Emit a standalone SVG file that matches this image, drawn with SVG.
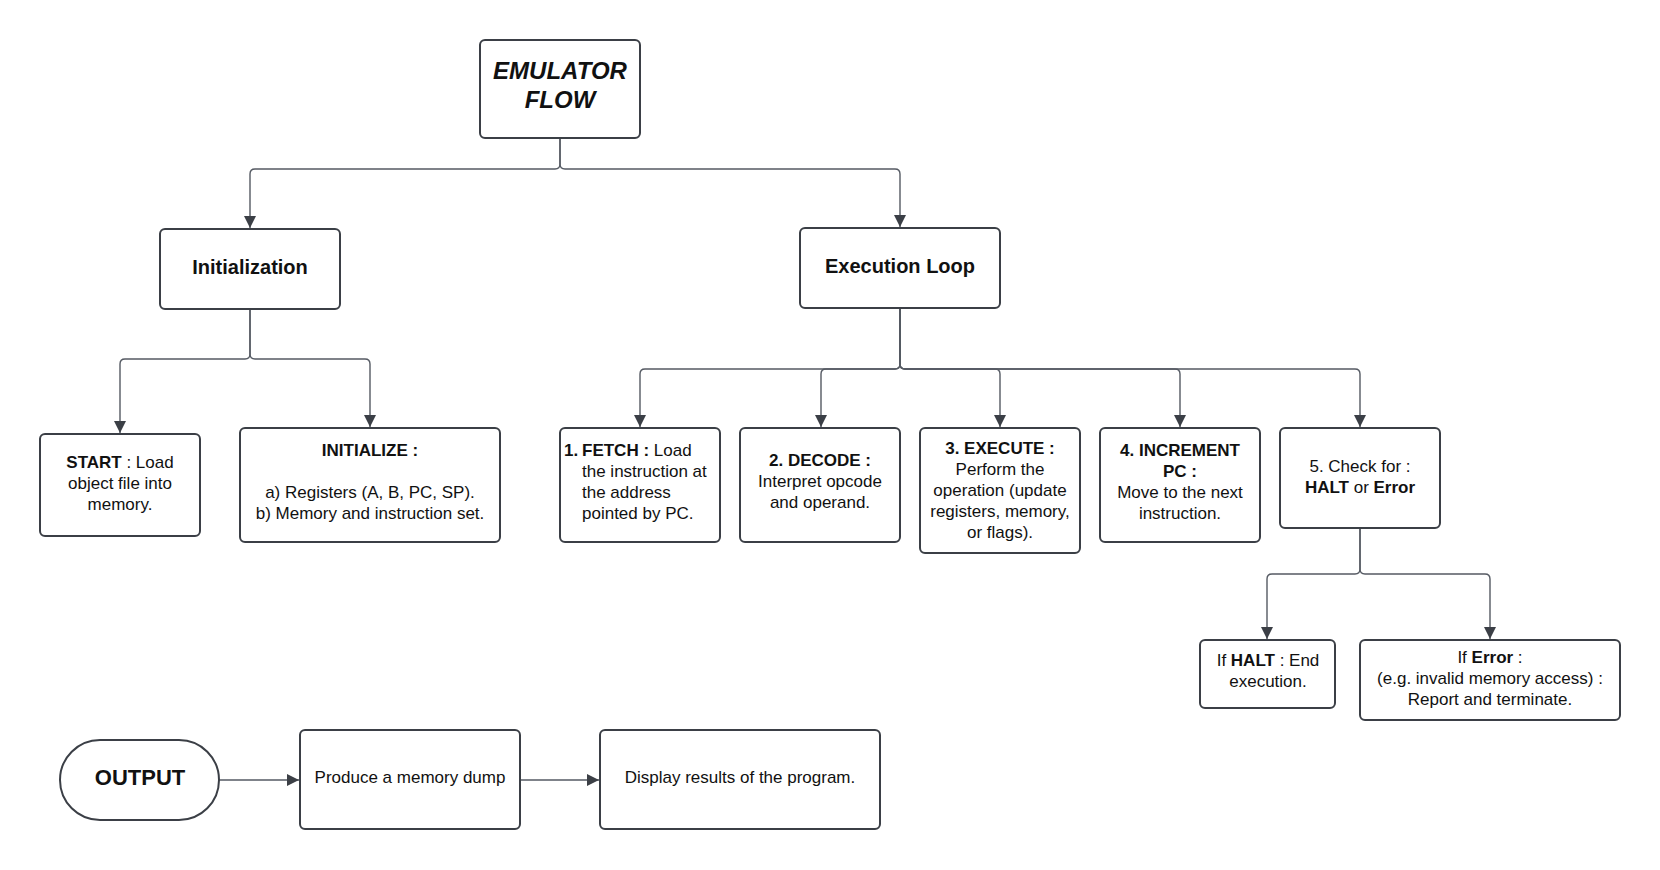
<svg xmlns="http://www.w3.org/2000/svg" width="1660" height="870" viewBox="0 0 1660 870">
<style>
.box{fill:#fff;stroke:#3b3f46;stroke-width:2}
.con{fill:none;stroke:#555a63;stroke-width:1.4}
text{font-family:"Liberation Sans",Arial,sans-serif;font-size:17px;fill:#111}
.c{text-anchor:middle}
.b{font-weight:bold}
</style>
<defs>
<marker id="ar" markerUnits="userSpaceOnUse" markerWidth="14" markerHeight="14" refX="12" refY="6" orient="auto">
<path d="M0,0 L12,6 L0,12 Z" fill="#3b3f46"/>
</marker>
</defs>
<rect width="1660" height="870" fill="#fff"/>
<g id="connectors">
<path class="con" marker-end="url(#ar)" d="M560,138 V164 Q560,169 555,169 H255 Q250,169 250,174 V228"/>
<path class="con" marker-end="url(#ar)" d="M560,138 V164 Q560,169 565,169 H895 Q900,169 900,174 V227"/>
<path class="con" marker-end="url(#ar)" d="M250,309 V354 Q250,359 245,359 H125 Q120,359 120,364 V433"/>
<path class="con" marker-end="url(#ar)" d="M250,309 V354 Q250,359 255,359 H365 Q370,359 370,364 V427"/>
<path class="con" marker-end="url(#ar)" d="M900,308 V364 Q900,369 895,369 H645 Q640,369 640,374 V427"/>
<path class="con" marker-end="url(#ar)" d="M900,308 V364 Q900,369 895,369 H826 Q821,369 821,374 V427"/>
<path class="con" marker-end="url(#ar)" d="M900,308 V364 Q900,369 905,369 H995 Q1000,369 1000,374 V427"/>
<path class="con" marker-end="url(#ar)" d="M900,308 V364 Q900,369 905,369 H1175 Q1180,369 1180,374 V427"/>
<path class="con" marker-end="url(#ar)" d="M900,308 V364 Q900,369 905,369 H1355 Q1360,369 1360,374 V427"/>
<path class="con" marker-end="url(#ar)" d="M1360,528 V569 Q1360,574 1355,574 H1272 Q1267,574 1267,579 V639"/>
<path class="con" marker-end="url(#ar)" d="M1360,528 V569 Q1360,574 1365,574 H1485 Q1490,574 1490,579 V639"/>
<path class="con" marker-end="url(#ar)" d="M219,780 H299"/>
<path class="con" marker-end="url(#ar)" d="M520,780 H599"/>
</g>
<g id="emulator-flow">
<rect class="box" x="480" y="40" width="160" height="98" rx="5"/>
<text class="c b" x="560" y="79" style="font-size:24px;font-style:italic">EMULATOR</text>
<text class="c b" x="560" y="108" style="font-size:24px;font-style:italic">FLOW</text>
</g>
<g id="initialization">
<rect class="box" x="160" y="229" width="180" height="80" rx="5"/>
<text class="c b" x="250" y="274" style="font-size:20px">Initialization</text>
</g>
<g id="execution-loop">
<rect class="box" x="800" y="228" width="200" height="80" rx="5"/>
<text class="c b" x="900" y="273" style="font-size:20px">Execution Loop</text>
</g>
<g id="start">
<rect class="box" x="40" y="434" width="160" height="102" rx="5"/>
<text class="c" x="120" y="468"><tspan class="b">START</tspan> : Load</text>
<text class="c" x="120" y="489">object file into</text>
<text class="c" x="120" y="510">memory.</text>
</g>
<g id="initialize">
<rect class="box" x="240" y="428" width="260" height="114" rx="5"/>
<text class="c b" x="370" y="456">INITIALIZE :</text>
<text class="c" x="370" y="498">a) Registers (A, B, PC, SP).</text>
<text class="c" x="370" y="519">b) Memory and instruction set.</text>
</g>
<g id="fetch">
<rect class="box" x="560" y="428" width="160" height="114" rx="5"/>
<text class="b" x="564" y="456">1.</text>
<text x="582" y="456"><tspan class="b">FETCH :</tspan> Load</text>
<text x="582" y="477">the instruction at</text>
<text x="582" y="498">the address</text>
<text x="582" y="519">pointed by PC.</text>
</g>
<g id="decode">
<rect class="box" x="740" y="428" width="160" height="114" rx="5"/>
<text class="c b" x="820" y="466">2. DECODE :</text>
<text class="c" x="820" y="487">Interpret opcode</text>
<text class="c" x="820" y="508">and operand.</text>
</g>
<g id="execute">
<rect class="box" x="920" y="428" width="160" height="125" rx="5"/>
<text class="c b" x="1000" y="454">3. EXECUTE :</text>
<text class="c" x="1000" y="475">Perform the</text>
<text class="c" x="1000" y="496">operation (update</text>
<text class="c" x="1000" y="517">registers, memory,</text>
<text class="c" x="1000" y="538">or flags).</text>
</g>
<g id="increment">
<rect class="box" x="1100" y="428" width="160" height="114" rx="5"/>
<text class="c b" x="1180" y="456">4. INCREMENT</text>
<text class="c b" x="1180" y="477">PC :</text>
<text class="c" x="1180" y="498">Move to the next</text>
<text class="c" x="1180" y="519">instruction.</text>
</g>
<g id="check">
<rect class="box" x="1280" y="428" width="160" height="100" rx="5"/>
<text class="c" x="1360" y="472">5. Check for :</text>
<text class="c" x="1360" y="493"><tspan class="b">HALT</tspan> or <tspan class="b">Error</tspan></text>
</g>
<g id="halt">
<rect class="box" x="1200" y="640" width="135" height="68" rx="5"/>
<text class="c" x="1268" y="666">If <tspan class="b">HALT</tspan> : End</text>
<text class="c" x="1268" y="687">execution.</text>
</g>
<g id="error">
<rect class="box" x="1360" y="640" width="260" height="80" rx="5"/>
<text class="c" x="1490" y="663">If <tspan class="b">Error</tspan> :</text>
<text class="c" x="1490" y="684">(e.g. invalid memory access) :</text>
<text class="c" x="1490" y="705">Report and terminate.</text>
</g>
<g id="output">
<rect class="box" x="60" y="740" width="159" height="80" rx="40"/>
<text class="c b" x="140" y="785" style="font-size:22px">OUTPUT</text>
</g>
<g id="memory-dump">
<rect class="box" x="300" y="730" width="220" height="99" rx="5"/>
<text class="c" x="410" y="783">Produce a memory dump</text>
</g>
<g id="display-results">
<rect class="box" x="600" y="730" width="280" height="99" rx="5"/>
<text class="c" x="740" y="783">Display results of the program.</text>
</g>
</svg>
